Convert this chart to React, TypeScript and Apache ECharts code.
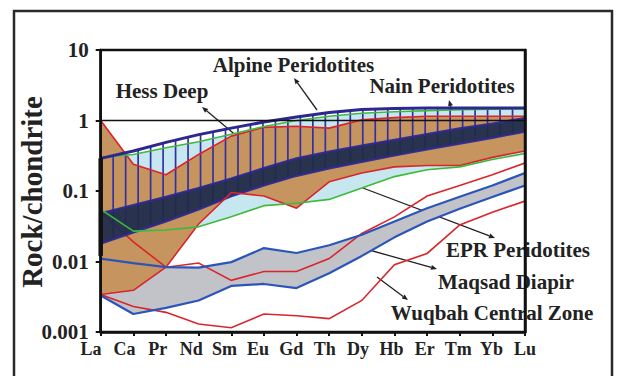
import React, { useEffect, useRef } from "react";
import * as echarts from "echarts";

const elements = ["La", "Ca", "Pr", "Nd", "Sm", "Eu", "Gd", "Th", "Dy", "Hb", "Er", "Tm", "Yb", "Lu"];
const yTickLabels = ["0.001", "0.01", "0.1", "1", "10"];

// Alpine Peridotites (hatched field)
const alpineTop = [0.29, 0.37, 0.49, 0.63, 0.78, 0.95, 1.12, 1.3, 1.43, 1.48, 1.5, 1.5, 1.5, 1.5];
const alpineLeftBottom = 0.012;
const alpineGreen = [0.3, 0.33, 0.41, 0.5, 0.64, 0.82, 1.0, 1.15, 1.27, 1.33, 1.38, 1.42, 1.45, 1.47];
// Hess Deep (dark band)
const hessUpper = [0.048, 0.063, 0.082, 0.11, 0.15, 0.21, 0.29, 0.36, 0.44, 0.53, 0.64, 0.77, 0.9, 1.08];
const hessLower = [0.018, 0.026, 0.037, 0.055, 0.085, 0.12, 0.165, 0.21, 0.26, 0.32, 0.39, 0.47, 0.57, 0.7];
// Nain Peridotites (brown field)
const nainUpper = [1, 0.24, 0.17, 0.33, 0.6, 0.8, 0.83, 0.78, 1.02, 1.1, 1.15, 1.15, 1.15, 1.15];
const nainLower = [0.0034, 0.0039, 0.0083, 0.034, 0.095, 0.085, 0.057, 0.135, 0.18, 0.22, 0.23, 0.23, 0.3, 0.37];
// EPR Peridotites (light blue, lower bound)
const eprGreen = [0.055, 0.027, 0.028, 0.031, 0.043, 0.062, 0.067, 0.076, 0.11, 0.16, 0.2, 0.22, 0.28, 0.34];
// Maqsad Diapir (grey band)
const maqsadUpper = [0.011, 0.0095, 0.0083, 0.0082, 0.0098, 0.0155, 0.0132, 0.017, 0.024, 0.037, 0.057, 0.083, 0.12, 0.18];
const maqsadLower = [0.0033, 0.0018, 0.0022, 0.0028, 0.0045, 0.0048, 0.0042, 0.0068, 0.012, 0.022, 0.037, 0.056, 0.082, 0.12];
// Wuqbah Central Zone (red outline)
const wuqbahUpper = [0.05, 0.019, 0.0083, 0.0095, 0.0054, 0.0072, 0.0072, 0.011, 0.025, 0.043, 0.085, 0.12, 0.17, 0.25];
const wuqbahLower = [0.0034, 0.0023, 0.0019, 0.0013, 0.00115, 0.0018, 0.0017, 0.00155, 0.0028, 0.009, 0.013, 0.033, 0.05, 0.072];
const chondrite = elements.map(() => 1);

const FONT = "Liberation Serif";
const C = {
  brown: "#c6955f",
  light: "#c6e6f0",
  gray: "#c2c2c9",
  hessFill: "#1e2b4c",
  hessStroke: "#2b2a8c",
  hatch: "#3430a0",
  navy: "#2c2890",
  red: "#d9252b",
  green: "#3dba3a",
  blue: "#2b55b8",
  ink: "#222",
};

function ptsOf(api: any, vals: number[]) {
  return vals.map((v, i) => api.coord([i, v]));
}

function bandPolys(up: number[][], lo: number[][]) {
  const polys: number[][][] = [];
  let top: number[][] = [];
  let bot: number[][] = [];
  const n = up.length;
  const d = (i: number) => lo[i][1] - up[i][1];
  for (let i = 0; i < n; i++) {
    const di = d(i);
    if (di > 0) {
      top.push(up[i]);
      bot.push(lo[i]);
    }
    if (i < n - 1) {
      const dn = d(i + 1);
      if (di > 0 !== dn > 0) {
        const t = di / (di - dn);
        const x = up[i][0] + t * (up[i + 1][0] - up[i][0]);
        const y = up[i][1] + t * (up[i + 1][1] - up[i][1]);
        top.push([x, y]);
        bot.push([x, y]);
        if (di > 0) {
          polys.push(top.concat(bot.slice().reverse()));
          top = [];
          bot = [];
        }
      }
    }
  }
  if (top.length > 1) polys.push(top.concat(bot.slice().reverse()));
  return polys;
}

function fillSeries(upper: number[], lower: number[], fill: string, stroke?: string, lw?: number, opacity = 1) {
  return {
    type: "custom",
    coordinateSystem: "cartesian2d",
    silent: true,
    data: [[0, 1]],
    renderItem: (_p: any, api: any) => {
      const up = ptsOf(api, upper);
      const lo = ptsOf(api, lower);
      return {
        type: "group",
        children: bandPolys(up, lo).map((p) => ({
          type: "polygon",
          shape: { points: p },
          style: { fill, stroke: stroke || null, lineWidth: lw || 0, opacity },
        })),
      };
    },
  };
}

function interpY(pts: number[][], x: number) {
  for (let j = 0; j < pts.length - 1; j++) {
    const a = pts[j], b = pts[j + 1];
    if (x >= a[0] - 0.01 && x <= b[0] + 0.01) {
      const t = (x - a[0]) / (b[0] - a[0]);
      return a[1] + t * (b[1] - a[1]);
    }
  }
  return pts[pts.length - 1][1];
}

function lineSeries(data: number[], color: string, width: number) {
  return {
    type: "line",
    data,
    symbol: "none",
    silent: true,
    lineStyle: { color, width },
  };
}

function arrow(x1: number, y1: number, x2: number, y2: number) {
  const ang = Math.atan2(y2 - y1, x2 - x1);
  const L = 6, W = 2.5;
  const bx = x2 - L * Math.cos(ang), by = y2 - L * Math.sin(ang);
  const nx = -Math.sin(ang) * W, ny = Math.cos(ang) * W;
  return {
    type: "group",
    children: [
      { type: "line", shape: { x1, y1, x2: bx, y2: by }, style: { stroke: C.ink, lineWidth: 1.3 } },
      { type: "polygon", shape: { points: [[x2, y2], [bx + nx, by + ny], [bx - nx, by - ny]] }, style: { fill: C.ink } },
    ],
  };
}

function label(text: string, x: number, y: number) {
  return {
    type: "text",
    x,
    y,
    style: { text, fontSize: 21, fontWeight: "bold", fontFamily: FONT, fill: C.ink, align: "center", verticalAlign: "middle" },
  };
}

export default function App() {
  const ref = useRef<HTMLDivElement>(null);
  useEffect(() => {
    document.body.style.margin = "0";
    if (!ref.current) return;
    const chart = echarts.init(ref.current, undefined, { renderer: "svg" });
    const axisFont = { fontFamily: FONT, fontWeight: "bold" as const, color: C.ink };
    const option: any = {
      animation: false,
      backgroundColor: "#fff",
      textStyle: { fontFamily: FONT },
      grid: [
        { left: 100.7, right: 92, top: 50, bottom: 44, show: true, borderColor: "#111", borderWidth: 2.5, z: 10 },
        { left: 91, right: 92, top: 50, bottom: 44 },
      ],
      xAxis: [
        {
          gridIndex: 0, type: "category", data: elements, boundaryGap: false, z: 10,
          axisLine: { onZero: false, lineStyle: { color: "#111", width: 2.5 } },
          axisTick: { length: 4, interval: 0, lineStyle: { color: "#111", width: 2 } },
          axisLabel: { show: false },
        },
        {
          gridIndex: 1, type: "category", data: elements, boundaryGap: false,
          axisLine: { show: false }, axisTick: { show: false },
          axisLabel: { interval: 0, margin: 8, fontSize: 18, lineHeight: 18, ...axisFont },
        },
      ],
      yAxis: [
        {
          gridIndex: 0, type: "log", logBase: 10, min: 0.001, max: 10, z: 10,
          axisLine: { show: true, lineStyle: { color: "#111", width: 2.5 } },
          axisTick: { show: true, length: 5, lineStyle: { color: "#111", width: 2 } },
          splitLine: { show: false }, minorTick: { show: false },
          axisLabel: {
            margin: 12, fontSize: 21, lineHeight: 15, ...axisFont,
            formatter: (v: number) => yTickLabels[Math.round(Math.log10(v)) + 3] ?? "",
          },
        },
        {
          gridIndex: 0, type: "log", logBase: 10, min: 0.001, max: 10, position: "right", z: 10,
          axisLine: { show: true, lineStyle: { color: "#111", width: 2.5 } },
          axisTick: { show: false }, axisLabel: { show: false }, splitLine: { show: false },
        },
        { gridIndex: 1, type: "value", show: false },
      ],
      series: [
        fillSeries(maqsadUpper, maqsadLower, C.gray),
        fillSeries(nainUpper, nainLower, C.brown),
        fillSeries(alpineGreen, nainUpper, C.light),
        fillSeries(nainLower, eprGreen, C.light),
        {
          type: "custom", coordinateSystem: "cartesian2d", silent: true, data: [[0, 1]],
          renderItem: (_p: any, api: any) => {
            const top = ptsOf(api, alpineTop);
            const bot = ptsOf(api, hessLower);
            const x0 = top[0][0], x1 = top[top.length - 1][0];
            const N = 34;
            const children: any[] = [];
            for (let k = 1; k <= N; k++) {
              const x = x0 + ((x1 - x0) * k) / N;
              children.push({
                type: "line",
                shape: { x1: x, y1: interpY(top, x), x2: x, y2: interpY(bot, x) },
                style: { stroke: C.hatch, lineWidth: 1.7 },
              });
            }
            return { type: "group", children };
          },
        },
        lineSeries(nainUpper, C.red, 1.6),
        lineSeries(nainLower, C.red, 1.6),
        {
          type: "custom", coordinateSystem: "cartesian2d", silent: true, data: [[0, 1]],
          renderItem: (_p: any, api: any) => {
            const pts = ptsOf(api, wuqbahUpper).concat(ptsOf(api, wuqbahLower).reverse());
            return { type: "polyline", shape: { points: pts }, style: { stroke: C.red, lineWidth: 1.6, fill: null } };
          },
        },
        lineSeries(alpineGreen, C.green, 1.6),
        lineSeries(eprGreen, C.green, 1.6),
        lineSeries(maqsadUpper, C.blue, 2.2),
        lineSeries(maqsadLower, C.blue, 2.2),
        fillSeries(hessUpper, hessLower, C.hessFill, C.hessStroke, 2.5, 0.93),
        lineSeries(alpineTop, C.navy, 3),
        lineSeries(chondrite, "#111", 1.5),
        {
          type: "custom", coordinateSystem: "cartesian2d", silent: true, data: [[0, 1]], z: 11,
          renderItem: (_p: any, api: any) => {
            const a = api.coord([0, alpineTop[0]]);
            const b = api.coord([0, alpineLeftBottom]);
            return { type: "line", shape: { x1: a[0], y1: a[1], x2: b[0], y2: b[1] }, style: { stroke: "#111", lineWidth: 4.5 } };
          },
        },
      ],
      graphic: [
        { type: "rect", shape: { x: 14, y: 11, width: 598, height: 380 }, style: { fill: null, stroke: "#2a2a2a", lineWidth: 2.5 }, silent: true },
        {
          type: "text", x: 32, y: 192, rotation: Math.PI / 2,
          style: { text: "Rock/chondrite", fontSize: 29, fontWeight: "bold", fontFamily: FONT, fill: C.ink, align: "center", verticalAlign: "middle" },
        },
        label("Alpine Peridotites", 293.5, 64.7),
        label("Hess Deep", 162, 91.3),
        label("Nain Peridotites", 442, 86.3),
        label("EPR Peridotites", 518, 249.5),
        label("Maqsad Diapir", 506, 281.7),
        label("Wuqbah Central Zone", 492, 313),
        arrow(317, 110, 294, 78),
        arrow(275, 168, 202, 107),
        arrow(461, 146, 449, 100),
        arrow(355, 185, 495, 238),
        arrow(362, 248, 437, 269),
        arrow(377, 277, 408, 300),
      ],
    };
    chart.setOption(option);
    return () => chart.dispose();
  }, []);
  return <div ref={ref} style={{ width: 617, height: 376 }} />;
}
